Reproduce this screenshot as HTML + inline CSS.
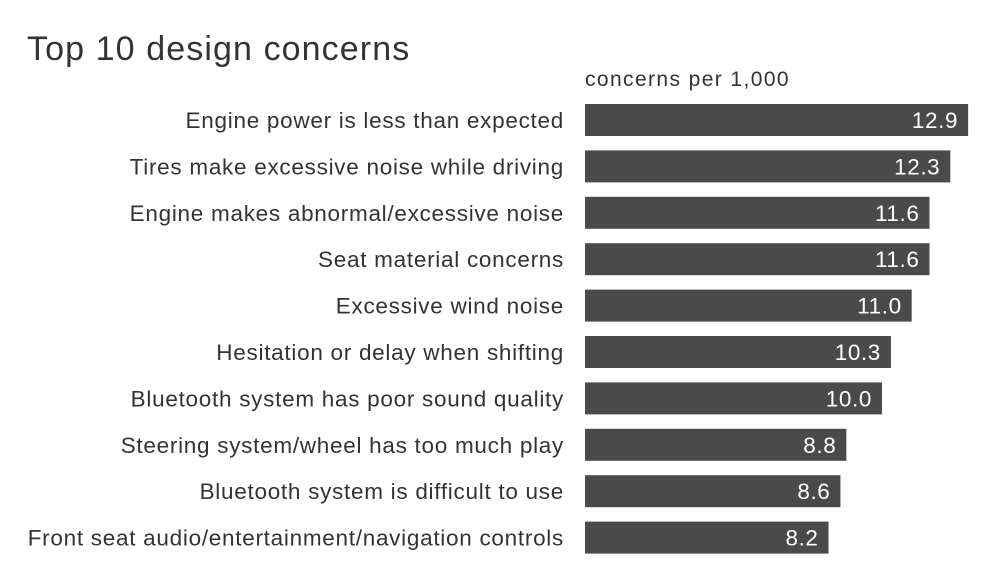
<!DOCTYPE html>
<html><head><meta charset="utf-8"><style>
html,body{margin:0;padding:0;background:#fff;}
body{width:998px;height:578px;overflow:hidden;font-family:"Liberation Sans",Arial,sans-serif;}
</style></head><body>
<svg id="chart" width="998" height="578" xmlns="http://www.w3.org/2000/svg">
<text x="27" y="60" font-size="34" letter-spacing="1.1" fill="#333">Top 10 design concerns</text>
<text x="585" y="86" font-size="21" letter-spacing="1.4" fill="#333">concerns per 1,000</text>
<g id="bars"></g>
</svg>
<script>
const categories=["Engine power is less than expected","Tires make excessive noise while driving","Engine makes abnormal/excessive noise","Seat material concerns","Excessive wind noise","Hesitation or delay when shifting","Bluetooth system has poor sound quality","Steering system/wheel has too much play","Bluetooth system is difficult to use","Front seat audio/entertainment/navigation controls"];
const values=[12.9,12.3,11.6,11.6,11.0,10.3,10.0,8.8,8.6,8.2];
const valueLabels=["12.9","12.3","11.6","11.6","11.0","10.3","10.0","8.8","8.6","8.2"];
const x0=585, pxPerUnit=29.7, y0=104, step=46.4, bh=32;
const xScale=v=>v*pxPerUnit;
const yScale=i=>y0+i*step;
const g=document.getElementById('bars');
const NS='http://www.w3.org/2000/svg';
categories.forEach((c,i)=>{
  const y=yScale(i), w=xScale(values[i]);
  const r=document.createElementNS(NS,'rect');
  r.setAttribute('x',x0);r.setAttribute('y',y);r.setAttribute('width',w);r.setAttribute('height',bh);r.setAttribute('fill','#4a4a4a');
  
  
  g.appendChild(r);
  const l=document.createElementNS(NS,'text');
  l.setAttribute('x',564);l.setAttribute('y',y+bh/2+8);l.setAttribute('text-anchor','end');l.setAttribute('font-size','22.5');l.setAttribute('letter-spacing','0.72');l.setAttribute('fill','#333');
  l.textContent=c;
  
  
  g.appendChild(l);
  const v=document.createElementNS(NS,'text');
  v.setAttribute('x',x0+w-10);v.setAttribute('y',y+bh/2+8);v.setAttribute('text-anchor','end');v.setAttribute('font-size','22.5');v.setAttribute('letter-spacing','0.6');v.setAttribute('fill','#fff');
  v.textContent=valueLabels[i];
  
  
  g.appendChild(v);
});
</script>
</body></html>
